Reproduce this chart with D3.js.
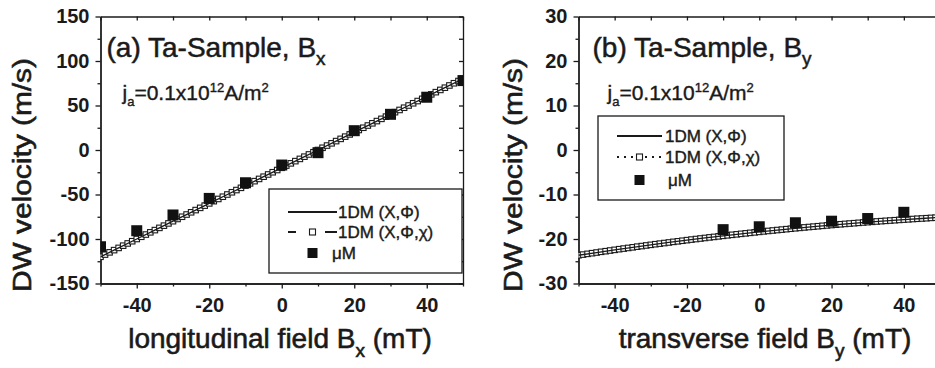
<!DOCTYPE html>
<html>
<head>
<meta charset="utf-8">
<script src="https://cdn.jsdelivr.net/npm/d3@7"></script>
<style>
  body { margin: 0; background: #fff; }
  svg { display: block; font-family: "Liberation Sans", Arial, sans-serif; }
</style>
</head>
<body>
<svg id="chart" width="935" height="368"></svg>
<script>
// field values (mT)
var fieldModel = [-50, -45, -40, -35, -30, -25, -20, -15, -10, -5, 0, 5, 10, 15, 20, 25, 30, 35, 40, 45, 50];
var fieldChi = [-50, -48.75, -47.5, -46.25, -45, -43.75, -42.5, -41.25, -40, -38.75, -37.5, -36.25, -35, -33.75, -32.5, -31.25,
    -30, -28.75, -27.5, -26.25, -25, -23.75, -22.5, -21.25, -20, -18.75, -17.5, -16.25, -15, -13.75, -12.5, -11.25,
    -10, -8.75, -7.5, -6.25, -5, -3.75, -2.5, -1.25, 0, 1.25, 2.5, 3.75, 5, 6.25, 7.5, 8.75,
    10, 11.25, 12.5, 13.75, 15, 16.25, 17.5, 18.75, 20, 21.25, 22.5, 23.75, 25, 26.25, 27.5, 28.75,
    30, 31.25, 32.5, 33.75, 35, 36.25, 37.5, 38.75, 40, 41.25, 42.5, 43.75, 45, 46.25, 47.5, 48.75, 50];
var fieldMicroX = [-50, -40, -30, -20, -10, 0, 10, 20, 30, 40, 50];
var fieldMicroY = [-10, 0, 10, 20, 30, 40];

// (a) longitudinal field
var vxModel = [-120, -110, -100, -90, -80, -70, -60, -50, -40, -30, -20, -10, 0, 10, 20, 30, 40, 50, 60, 70, 80];
var vxChi = [-120, -117.5, -115, -112.5, -110, -107.5, -105, -102.5, -100, -97.5, -95, -92.5, -90, -87.5, -85, -82.5,
    -80, -77.5, -75, -72.5, -70, -67.5, -65, -62.5, -60, -57.5, -55, -52.5, -50, -47.5, -45, -42.5,
    -40, -37.5, -35, -32.5, -30, -27.5, -25, -22.5, -20, -17.5, -15, -12.5, -10, -7.5, -5, -2.5,
    0, 2.5, 5, 7.5, 10, 12.5, 15, 17.5, 20, 22.5, 25, 27.5, 30, 32.5,
    35, 37.5, 40, 42.5, 45, 47.5, 50, 52.5, 55, 57.5, 60, 62.5, 65, 67.5, 70, 72.5, 75, 77.5, 80];
var vxMicro = [-108.7, -90.7, -73, -54.4, -36.8, -16.9, -3, 21.7, 40.1, 59.3, 78];

// (b) transverse field
var vyModel = [-23.65, -23.04, -22.44, -21.87, -21.31, -20.78, -20.26, -19.77, -19.29, -18.84, -18.40,
    -17.99, -17.59, -17.22, -16.86, -16.53, -16.21, -15.92, -15.64, -15.39, -15.15];
var vyChi = [-23.65, -23.50, -23.34, -23.19, -23.04, -22.88, -22.74, -22.59, -22.44, -22.29, -22.15, -22.01, -21.87, -21.72, -21.59, -21.45,
    -21.31, -21.17, -21.04, -20.91, -20.78, -20.64, -20.52, -20.39, -20.26, -20.13, -20.01, -19.89, -19.77, -19.64, -19.53, -19.41,
    -19.29, -19.17, -19.06, -18.95, -18.84, -18.73, -18.62, -18.51, -18.40, -18.29, -18.19, -18.09, -17.99, -17.89, -17.79, -17.69,
    -17.59, -17.50, -17.40, -17.31, -17.22, -17.13, -17.04, -16.95, -16.86, -16.78, -16.69, -16.61, -16.53, -16.45, -16.37, -16.29,
    -16.21, -16.14, -16.06, -15.99, -15.92, -15.85, -15.78, -15.71, -15.64, -15.58, -15.51, -15.45, -15.39, -15.33, -15.26, -15.21, -15.15];
var vyMicro = [-17.9, -17.25, -16.35, -16.0, -15.4, -14.0];

// ticks
var xMajor = [-40, -20, 0, 20, 40];
var xMinor = [-50, -30, -10, 10, 30, 50];
var yMajorA = [-150, -100, -50, 0, 50, 100, 150];
var yMinorA = [-125, -75, -25, 25, 75, 125];
var yMajorB = [-30, -20, -10, 0, 10, 20, 30];
var yMinorB = [-25, -15, -5, 5, 15, 25];

var legendLabels = ['1DM (X,\u03A6)', '1DM (X,\u03A6,\u03C7)', '\u03BCM'];

const svg = d3.select('#chart');
const ink = '#1a1a1a';
const plotTop = 16.5, plotBottom = 283.5;

// plain hyphen for negatives, like the original figure
const tickFmt = d => String(d);

function heavy(sel, w) {
    return sel.attr('stroke', ink).attr('stroke-width', w).attr('paint-order', 'stroke');
}

function drawPanel(o) {
    const x = d3.scaleLinear().domain([-50, 50]).range([o.left, o.right]);
    const y = d3.scaleLinear().domain(o.yDomain).range([plotBottom, plotTop]);
    const g = svg.append('g');

    g.append('clipPath').attr('id', o.id + 'clip')
        .append('rect')
        .attr('x', o.left).attr('y', plotTop)
        .attr('width', o.right - o.left).attr('height', plotBottom - plotTop);

    // axes
    function styleAxis(sel) {
        sel.selectAll('path,line').attr('stroke', ink).attr('stroke-width', 1.3);
        sel.selectAll('text').attr('fill', ink)
            .style('font-size', '20px').style('font-weight', 'bold')
            .style('font-family', '"Liberation Sans", Arial, sans-serif');
    }
    g.append('g').attr('transform', 'translate(' + o.left + ',0)')
        .call(d3.axisLeft(y).tickValues(o.yMajor).tickFormat(tickFmt).tickSize(5).tickSizeOuter(0).tickPadding(6))
        .call(styleAxis);
    g.append('g').attr('transform', 'translate(' + o.left + ',0)')
        .call(d3.axisLeft(y).tickValues(o.yMinor).tickSize(3).tickSizeOuter(0).tickFormat(''))
        .call(styleAxis);
    g.append('g').attr('transform', 'translate(0,' + plotBottom + ')')
        .call(d3.axisBottom(x).tickValues(xMajor).tickFormat(tickFmt).tickSize(5).tickSizeOuter(0).tickPadding(9))
        .call(styleAxis);
    g.append('g').attr('transform', 'translate(0,' + plotBottom + ')')
        .call(d3.axisBottom(x).tickValues(xMinor).tickSize(3).tickSizeOuter(0).tickFormat(''))
        .call(styleAxis);
    // mirrored axes, ticks inward
    g.append('g').attr('transform', 'translate(0,' + plotTop + ')')
        .call(d3.axisBottom(x).tickValues(xMajor.concat(xMinor)).tickSize(4).tickSizeOuter(0).tickFormat(''))
        .call(styleAxis);
    g.append('g').attr('transform', 'translate(' + o.right + ',0)')
        .call(d3.axisLeft(y).tickValues(o.yMajor.concat(o.yMinor)).tickSize(4).tickSizeOuter(0).tickFormat(''))
        .call(styleAxis);

    const plot = g.append('g').attr('clip-path', 'url(#' + o.id + 'clip)');

    // 1DM (X,Phi,chi) open squares
    plot.selectAll('rect.chi')
        .data(fieldChi.map((f, i) => [f, o.chi[i]]))
        .enter().append('rect')
        .attr('class', 'chi')
        .attr('x', d => x(d[0]) - 2.75).attr('y', d => y(d[1]) - 2.75)
        .attr('width', 5.5).attr('height', 5.5)
        .attr('fill', '#fff').attr('stroke', ink).attr('stroke-width', 1.1);

    // 1DM (X,Phi) solid line
    plot.append('path')
        .datum(fieldModel.map((f, i) => [f, o.model[i]]))
        .attr('fill', 'none').attr('stroke', ink).attr('stroke-width', 1.3)
        .attr('d', d3.line().x(d => x(d[0])).y(d => y(d[1])));

    // micromagnetics
    plot.selectAll('rect.mm')
        .data(o.microField.map((f, i) => [f, o.micro[i]]))
        .enter().append('rect')
        .attr('class', 'mm')
        .attr('x', d => x(d[0]) - 5.5).attr('y', d => y(d[1]) - 5.5)
        .attr('width', 11).attr('height', 11)
        .attr('fill', '#111');

    // axis titles
    g.append('text')
        .attr('transform', 'translate(' + o.yTitleX + ',175) rotate(-90)')
        .attr('text-anchor', 'middle')
        .attr('textLength', 234).attr('lengthAdjust', 'spacingAndGlyphs')
        .attr('fill', ink).style('font-size', '26px')
        .call(heavy, 0.6)
        .text('DW velocity (m/s)');

    const xt = g.append('text')
        .attr('x', o.xTitleX).attr('y', 348)
        .attr('text-anchor', 'middle')
        .attr('fill', ink).style('font-size', '28px')
        .call(heavy, 0.6);
    xt.append('tspan').text(o.xTitle + ' B');
    xt.append('tspan').attr('dy', 9).style('font-size', '19px').text(o.sub);
    xt.append('tspan').attr('dy', -9).text(' (mT)');

    // panel label
    const pl = g.append('text')
        .attr('x', o.left + o.labelDx).attr('y', 57)
        .attr('fill', ink).style('font-size', '28px')
        .call(heavy, 0.5);
    pl.append('tspan').text(o.label + ' Ta-Sample, B');
    pl.append('tspan').attr('dy', 8).style('font-size', '19px').text(o.sub);

    // current density
    const jt = g.append('text')
        .attr('x', o.left + o.jDx).attr('y', 100)
        .attr('fill', ink).style('font-size', '21px')
        .call(heavy, 0.4);
    jt.append('tspan').text('j');
    jt.append('tspan').attr('dy', 6).style('font-size', '13px').text('a');
    jt.append('tspan').attr('dy', -6).text('=0.1x10');
    jt.append('tspan').attr('dy', -8).style('font-size', '13px').text('12');
    jt.append('tspan').attr('dy', 8).text('A/m');
    jt.append('tspan').attr('dy', -8).style('font-size', '13px').text('2');

    // legend
    const lg = g.append('g');
    const L = o.legend;
    lg.append('rect')
        .attr('x', L.x).attr('y', L.y).attr('width', L.w).attr('height', L.h)
        .attr('fill', '#fff').attr('stroke', ink).attr('stroke-width', 1.3);
    const sx0 = L.x + L.sample0, sx1 = L.x + L.sample1, smid = (sx0 + sx1) / 2;
    lg.append('line')
        .attr('x1', sx0).attr('x2', sx1).attr('y1', L.y + L.rows[0]).attr('y2', L.y + L.rows[0])
        .attr('stroke', ink).attr('stroke-width', 1.8);
    lg.append('line')
        .attr('x1', sx0).attr('x2', sx1).attr('y1', L.y + L.rows[1]).attr('y2', L.y + L.rows[1])
        .attr('stroke', ink).attr('stroke-width', 1.8).attr('stroke-dasharray', L.dash);
    lg.append('rect')
        .attr('x', smid - 3).attr('y', L.y + L.rows[1] - 3).attr('width', 6).attr('height', 6)
        .attr('fill', '#fff').attr('stroke', ink).attr('stroke-width', 1.1);
    lg.append('rect')
        .attr('x', smid - 5).attr('y', L.y + L.rows[2] - 5).attr('width', 10).attr('height', 10)
        .attr('fill', '#111');
    lg.selectAll('text.leg')
        .data(legendLabels)
        .enter().append('text')
        .attr('class', 'leg')
        .attr('x', (d, i) => L.x + (i === 2 ? L.textMu : L.text))
        .attr('y', (d, i) => L.y + L.rows[i] + 6)
        .attr('fill', ink).style('font-size', '17px')
        .call(heavy, 0.4)
        .text(d => d);
}

drawPanel({
    id: 'a', left: 100.5, right: 463, yDomain: [-150, 150],
    yMajor: yMajorA, yMinor: yMinorA,
    model: vxModel, chi: vxChi, micro: vxMicro, microField: fieldMicroX,
    yTitleX: 31, xTitleX: 280, xTitle: 'longitudinal field', sub: 'x',
    label: '(a)', labelDx: 6, jDx: 22,
    legend: { x: 269, y: 189, w: 193, h: 84, rows: [23, 43, 64], sample0: 19, sample1: 68,
              dash: '8,29,12', text: 69, textMu: 63 }
});

drawPanel({
    id: 'b', left: 578.5, right: 940, yDomain: [-30, 30],
    yMajor: yMajorB, yMinor: yMinorB,
    model: vyModel, chi: vyChi, micro: vyMicro, microField: fieldMicroY,
    yTitleX: 522, xTitleX: 765, xTitle: 'transverse field', sub: 'y',
    label: '(b)', labelDx: 14, jDx: 29,
    legend: { x: 598, y: 116, w: 186, h: 84, rows: [20, 41, 64], sample0: 19, sample1: 64,
              dash: '2,5', text: 67, textMu: 70 }
});
</script>
</body>
</html>
